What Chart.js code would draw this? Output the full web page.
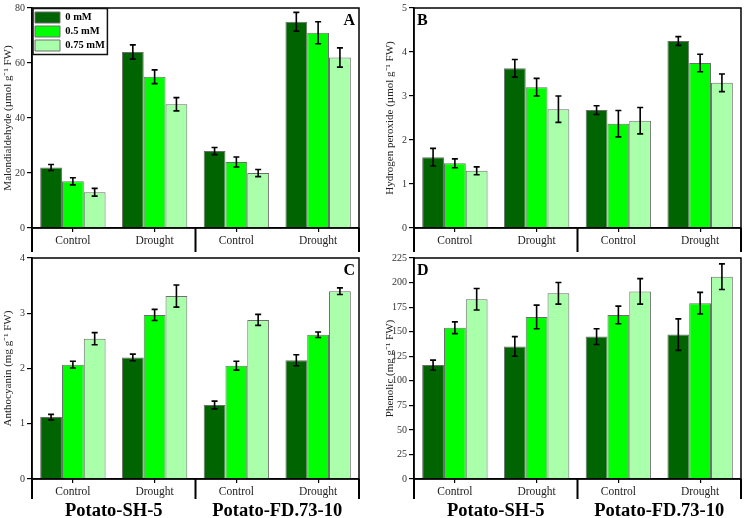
<!DOCTYPE html>
<html><head><meta charset="utf-8">
<script src="https://cdn.jsdelivr.net/npm/chart.js@4"></script>
<style>
body{margin:0;background:#fff;width:745px;height:518px;position:relative;overflow:hidden}
canvas{position:absolute}
</style></head><body>
<canvas id="cA" width="362" height="254" style="left:0;top:0"></canvas>
<canvas id="cB" width="362" height="254" style="left:382px;top:0"></canvas>
<canvas id="cC" width="362" height="268" style="left:0;top:250px"></canvas>
<canvas id="cD" width="362" height="268" style="left:382px;top:250px"></canvas>
<script>
// ---- data ----
const categories = ['Control', 'Drought', 'Control', 'Drought'];
const cultivars = ['Potato-SH-5', 'Potato-FD.73-10'];
const seriesNames = ['0 mM', '0.5 mM', '0.75 mM'];

// A: Malondialdehyde (µmol g-1 FW)
const mdaMean0 = [22, 64, 28, 75];
const mdaMean05 = [17, 55, 24, 71];
const mdaMean075 = [13, 45, 20, 62];
const mdaErr0 = [1.1, 2.6, 1.3, 3.4];
const mdaErr05 = [1.3, 2.5, 1.8, 4.0];
const mdaErr075 = [1.4, 2.4, 1.3, 3.5];
const mdaTicks = [0, 20, 40, 60, 80];

// B: Hydrogen peroxide (µmol g-1 FW)
const h2o2Mean0 = [1.61, 3.63, 2.68, 4.25];
const h2o2Mean05 = [1.47, 3.20, 2.37, 3.75];
const h2o2Mean075 = [1.30, 2.70, 2.44, 3.30];
const h2o2Err0 = [0.2, 0.2, 0.1, 0.1];
const h2o2Err05 = [0.1, 0.2, 0.3, 0.2];
const h2o2Err075 = [0.09, 0.3, 0.3, 0.2];
const h2o2Ticks = [0, 1, 2, 3, 4, 5];

// C: Anthocyanin (mg g-1 FW)
const anthMean0 = [1.12, 2.20, 1.34, 2.15];
const anthMean05 = [2.07, 2.97, 2.05, 2.61];
const anthMean075 = [2.54, 3.31, 2.88, 3.40];
const anthErr0 = [0.05, 0.06, 0.07, 0.1];
const anthErr05 = [0.06, 0.1, 0.08, 0.05];
const anthErr075 = [0.11, 0.2, 0.1, 0.06];
const anthTicks = [0, 1, 2, 3, 4];

// D: Phenolic (mg g-1 FW)
const phenMean0 = [116, 135, 145, 147];
const phenMean05 = [154, 165, 167, 179];
const phenMean075 = [183, 189, 191, 206];
const phenErr0 = [5, 10, 8, 16];
const phenErr05 = [6, 12, 9, 11];
const phenErr075 = [11, 11, 13, 13];
const phenTicks = [0, 25, 50, 75, 100, 125, 150, 175, 200, 225];

// ---- styling ----
const SERIF = '"Liberation Serif", "Times New Roman", serif';
const barColors = ['#006400', '#00ff00', '#aaffaa'];

const errorBars = {
  id: 'errorBars',
  afterDatasetsDraw(chart) {
    const ctx = chart.ctx, y = chart.scales.y;
    ctx.save();
    ctx.strokeStyle = '#000';
    ctx.lineWidth = 1.6;
    chart.data.datasets.forEach((ds, i) => {
      const meta = chart.getDatasetMeta(i);
      meta.data.forEach((bar, j) => {
        const v = ds.data[j], e = ds.errors[j];
        const yt = y.getPixelForValue(v + e), yb = y.getPixelForValue(v - e);
        const x = bar.x;
        ctx.beginPath();
        ctx.moveTo(x, yt); ctx.lineTo(x, yb);
        ctx.moveTo(x - 3, yt); ctx.lineTo(x + 3, yt);
        ctx.moveTo(x - 3, yb); ctx.lineTo(x + 3, yb);
        ctx.stroke();
      });
    });
    ctx.restore();
  }
};

const frame = {
  id: 'frame',
  beforeDraw(chart, args, opts) {
    if (opts.legendBorder && chart.legend) {
      const a = chart.chartArea, lg = chart.legend;
      const h = lg.bottom - lg.top;
      lg.top = a.top + 1;
      lg.bottom = lg.top + h;
    }
  },
  afterDraw(chart, args, opts) {
    const ctx = chart.ctx, a = chart.chartArea, x = chart.scales.x;
    ctx.save();
    ctx.strokeStyle = '#000';
    ctx.lineWidth = 1.5;
    ctx.strokeRect(a.left, a.top, a.right - a.left, a.bottom - a.top);
    ctx.lineWidth = 2;
    const yb = a.bottom + opts.boxDepth;
    [a.left, x.getPixelForValue(1.5), a.right].forEach(px => {
      ctx.beginPath(); ctx.moveTo(px, a.bottom); ctx.lineTo(px, yb); ctx.stroke();
    });
    ctx.fillStyle = '#000';
    ctx.font = 'bold 16px ' + SERIF;
    ctx.textBaseline = 'top';
    ctx.textAlign = opts.letterAlign;
    ctx.fillText(opts.letter, opts.letterAlign === 'right' ? a.right - 4 : a.left + 3, a.top + 5);
    if (opts.legendBorder && chart.legend) {
      const lg = chart.legend, lo = lg.options.labels;
      ctx.font = 'bold ' + lo.font.size + 'px ' + SERIF;
      let tw = 0;
      lg.legendItems.forEach(it => { tw = Math.max(tw, ctx.measureText(it.text).width); });
      const textX = lg.left + lo.padding + lo.boxWidth + lo.font.size / 2;
      ctx.strokeStyle = '#111';
      ctx.lineWidth = 1.5;
      ctx.strokeRect(a.left + 1, a.top + 0.5, textX + tw + 2.5 - (a.left + 1), 46);
    }
    ctx.restore();
  }
};

function makeChart(id, cfg) {
  const scales = {
    x: {
      type: 'category', position: 'bottom', offset: true,
      grid: { display: true, drawOnChartArea: false, offset: false, tickLength: 4, color: '#000', lineWidth: 1.2 },
      border: { display: true, color: '#000', width: 1.5 },
      ticks: { font: { family: SERIF, size: 11.5 }, color: '#222', padding: 2, maxRotation: 0 },
      afterFit: s => { s.height = cfg.xHeight; }
    },
    y: {
      min: cfg.ticks[0], max: cfg.ticks[cfg.ticks.length - 1],
      grid: { display: true, drawOnChartArea: false, tickLength: 5, color: '#000', lineWidth: 1.2 },
      border: { display: true, color: '#000', width: 1.5 },
      ticks: { stepSize: cfg.ticks[1] - cfg.ticks[0], font: { family: SERIF, size: 10 }, color: '#333', padding: 2 },
      title: { display: true, text: cfg.yTitle, font: { family: SERIF, size: 11 }, color: '#222', padding: { top: 2, bottom: 0 } },
      afterFit: s => { s.width = 32; }
    }
  };
  if (cfg.bottom) {
    scales.x2 = {
      type: 'category', position: 'bottom', offset: true, labels: cultivars, weight: 1,
      grid: { display: false, drawTicks: false }, border: { display: false },
      ticks: { font: { family: SERIF, size: 18.5, weight: 'bold' }, color: '#000', padding: 1, maxRotation: 0 },
      afterFit: s => { s.height = 19; }
    };
  }
  return new Chart(document.getElementById(id), {
    type: 'bar',
    data: {
      labels: categories,
      datasets: cfg.means.map((m, i) => ({
        label: seriesNames[i], data: m, errors: cfg.errs[i],
        backgroundColor: barColors[i], borderColor: '#6e6e6e', borderWidth: 1,
        xAxisID: 'x', yAxisID: 'y', categoryPercentage: 0.8, barPercentage: 1
      }))
    },
    options: {
      responsive: false, animation: false,
      layout: { padding: { top: cfg.padTop, right: 3, left: 0, bottom: 0 } },
      scales,
      plugins: {
        tooltip: { enabled: false },
        legend: cfg.legend ? {
          display: true, position: 'chartArea', align: 'start',
          labels: { boxWidth: 25, boxHeight: 11, padding: 3, color: '#000', font: { family: SERIF, size: 10.5, weight: 'bold' } }
        } : { display: false },
        frame: { letter: cfg.letter, letterAlign: cfg.letterAlign, boxDepth: cfg.boxDepth, legendBorder: !!cfg.legend }
      }
    },
    plugins: [errorBars, frame]
  });
}

makeChart('cA', {
  means: [mdaMean0, mdaMean05, mdaMean075], errs: [mdaErr0, mdaErr05, mdaErr075], ticks: mdaTicks,
  yTitle: 'Malondialdehyde (µmol g⁻¹ FW)', letter: 'A', letterAlign: 'right', legend: true,
  padTop: 5, xHeight: 26, boxDepth: 24, bottom: false
});
makeChart('cB', {
  means: [h2o2Mean0, h2o2Mean05, h2o2Mean075], errs: [h2o2Err0, h2o2Err05, h2o2Err075], ticks: h2o2Ticks,
  yTitle: 'Hydrogen peroxide (µmol g⁻¹ FW)', letter: 'B', letterAlign: 'left', legend: false,
  padTop: 5, xHeight: 26, boxDepth: 24, bottom: false
});
makeChart('cC', {
  means: [anthMean0, anthMean05, anthMean075], errs: [anthErr0, anthErr05, anthErr075], ticks: anthTicks,
  yTitle: 'Anthocyanin (mg g⁻¹ FW)', letter: 'C', letterAlign: 'right', legend: false,
  padTop: 6, xHeight: 20, boxDepth: 20, bottom: true
});
makeChart('cD', {
  means: [phenMean0, phenMean05, phenMean075], errs: [phenErr0, phenErr05, phenErr075], ticks: phenTicks,
  yTitle: 'Phenolic (mg g⁻¹ FW)', letter: 'D', letterAlign: 'left', legend: false,
  padTop: 6, xHeight: 20, boxDepth: 20, bottom: true
});
</script>
</body></html>
